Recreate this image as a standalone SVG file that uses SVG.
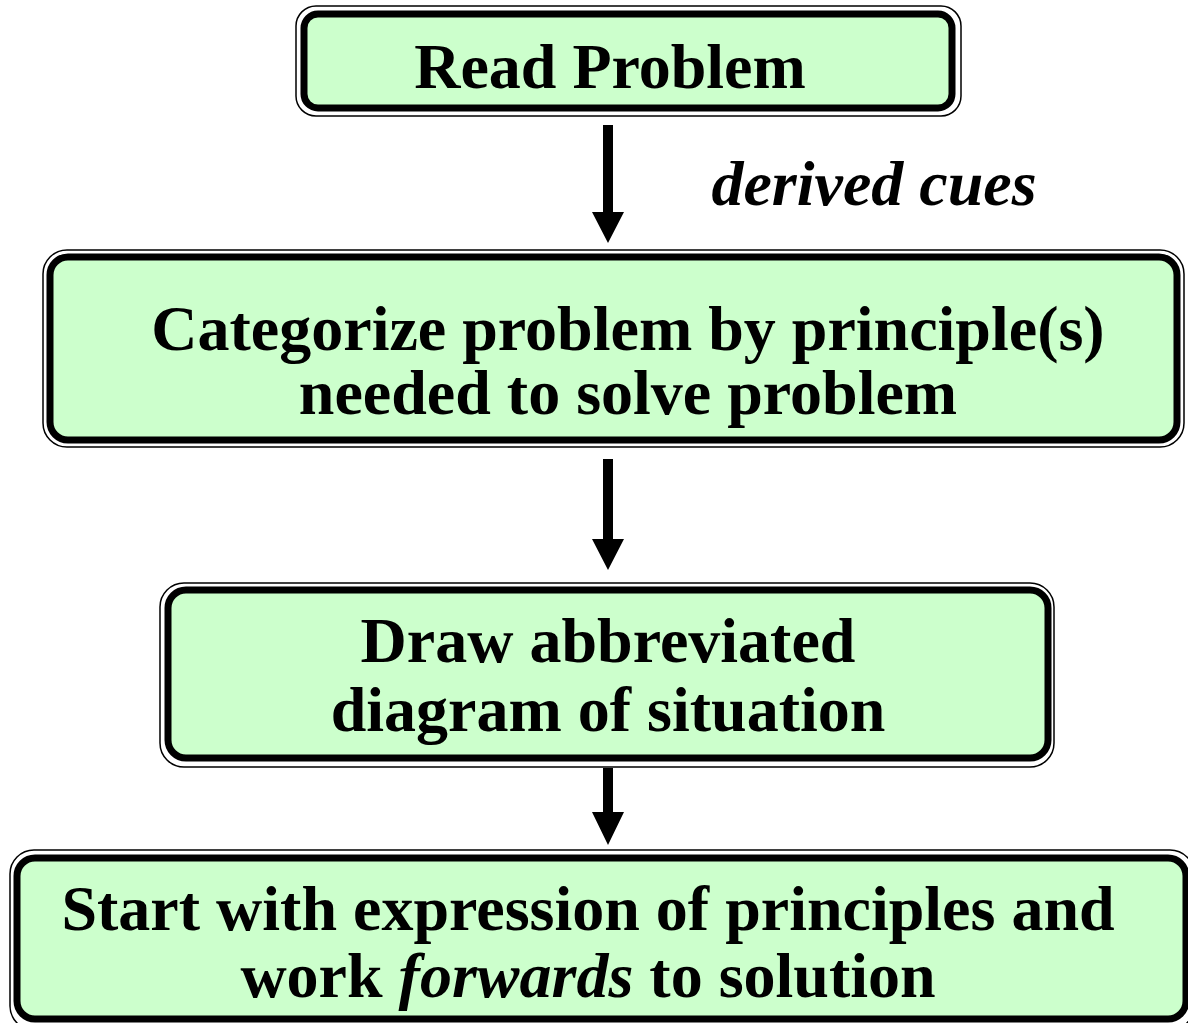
<svg xmlns="http://www.w3.org/2000/svg" width="1188" height="1023" viewBox="0 0 1188 1023">
<style>
.outer{fill:#fff;stroke:#000;stroke-width:1.5}
.inner{fill:#ccffcc;stroke:#000;stroke-width:7}
.t{font-family:"Liberation Serif","Times New Roman",serif;font-weight:bold;font-size:64px;fill:#000;text-anchor:middle}
.i{font-style:italic}
.arr{fill:#000}
</style>
<rect width="1188" height="1023" fill="#fff"/>
<g id="node-read">
<rect class="outer" x="296" y="6" width="665" height="110" rx="20"/>
<rect class="inner" x="304" y="14" width="648" height="94" rx="14"/>
<text class="t" x="610" y="88">Read Problem</text>
</g>
<g id="node-categorize">
<rect class="outer" x="43" y="250" width="1141" height="197" rx="24"/>
<rect class="inner" x="50" y="257" width="1127" height="183" rx="18"/>
<text class="t" x="628" y="350">Categorize problem by principle(s)</text>
<text class="t" x="628" y="414">needed to solve problem</text>
</g>
<g id="node-draw">
<rect class="outer" x="160" y="583" width="894" height="184" rx="24"/>
<rect class="inner" x="168" y="590" width="880" height="168" rx="18"/>
<text class="t" x="608" y="662">Draw abbreviated</text>
<text class="t" x="608" y="731">diagram of situation</text>
</g>
<g id="node-start">
<rect class="outer" x="10" y="850" width="1184" height="180" rx="24"/>
<rect class="inner" x="17" y="858" width="1169" height="161" rx="18"/>
<text class="t" x="588" y="930">Start with expression of principles and</text>
<text class="t" x="588" y="997">work <tspan class="i">forwards</tspan> to solution</text>
</g>
<g id="connectors">
<path class="arr" d="M603,125 H613 V212 H624 L608,243 L592,212 H603 Z"/>
<path class="arr" d="M603,459 H613 V539 H624 L608,570 L592,539 H603 Z"/>
<path class="arr" d="M603,768 H613 V812 H624 L608,845 L592,812 H603 Z"/>
<text class="t i" x="874" y="205">derived cues</text>
</g>
</svg>
